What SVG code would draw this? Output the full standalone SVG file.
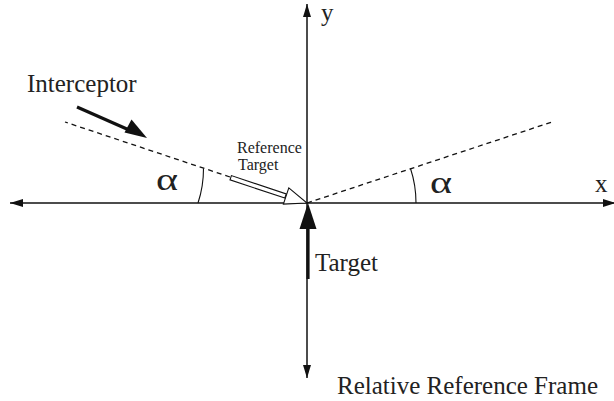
<svg xmlns="http://www.w3.org/2000/svg" width="614" height="401" viewBox="0 0 614 401">
<style>
.ax{stroke:#111;stroke-width:1.5;fill:none}
.dash{stroke:#111;stroke-width:1.3;stroke-dasharray:5,4;fill:none}
.arc{stroke:#111;stroke-width:1.1;fill:none}
.t{font-family:"Liberation Serif","Times New Roman",serif;fill:#222}
.solid{fill:#111;stroke:none}
</style>
<defs>
<marker id="ah" markerWidth="14" markerHeight="8" refX="13" refY="4" orient="auto" markerUnits="userSpaceOnUse">
<path d="M0,0 L13,4 L0,8 Z" fill="#111"/>
</marker>
</defs>
<g id="connectors">
<line class="ax" x1="307" y1="203" x2="10" y2="203" marker-end="url(#ah)"/>
<line class="ax" x1="307" y1="203" x2="616" y2="203" marker-end="url(#ah)"/>
<line class="ax" x1="307" y1="203" x2="307" y2="4" marker-end="url(#ah)"/>
<line class="ax" x1="307" y1="203" x2="307" y2="378" marker-end="url(#ah)"/>
<line class="dash" x1="230" y1="177" x2="65" y2="122"/>
<line class="dash" x1="307" y1="203" x2="552" y2="122"/>
<path class="arc" d="M198,203 A109,109 0 0 0 203.5,168.5"/>
<path class="arc" d="M416,203 A109,109 0 0 0 410.5,168.5"/>
</g>
<g id="ref-target-arrow">
<path d="M307,203 L283.4,204.1 L288.8,187.9 Z" fill="#fff" stroke="#111" stroke-width="1.1"/>
<path d="M284.8,198.1 L230.0,179.8 L231.4,175.6 L286.2,193.9 Z" fill="#fff" stroke="#111" stroke-width="1.1"/>
</g>
<g id="target-arrow">
<line x1="308" y1="226" x2="308" y2="279" stroke="#111" stroke-width="3.2"/>
<path class="solid" d="M308,203 L316.5,229 L299.5,229 Z"/>
</g>
<g id="interceptor-arrow">
<line x1="77" y1="107" x2="128" y2="129.5" stroke="#111" stroke-width="3.2"/>
<path class="solid" d="M147,138 L124.5,132.5 L131.5,119.5 Z"/>
</g>
<g id="labels">
<text class="t" x="27" y="92" font-size="25">Interceptor</text>
<text class="t" x="237" y="153" font-size="16">Reference</text>
<text class="t" x="238" y="170" font-size="16">Target</text>
<text class="t" x="315" y="271" font-size="25">Target</text>
<text class="t" x="337" y="394" font-size="25">Relative Reference Frame</text>
<text class="t" x="321" y="21" font-size="25">y</text>
<text class="t" x="595" y="192" font-size="25">x</text>
<text class="t" x="156" y="190" font-size="31" textLength="22" lengthAdjust="spacingAndGlyphs">α</text>
<text class="t" x="430" y="193" font-size="31" textLength="22" lengthAdjust="spacingAndGlyphs">α</text>
</g>
</svg>
